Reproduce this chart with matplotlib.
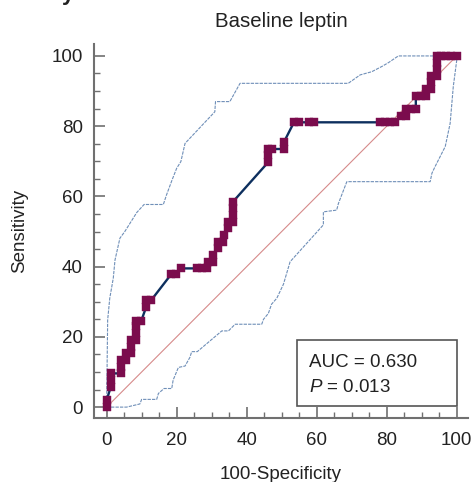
import matplotlib
matplotlib.use("Agg")
import matplotlib.pyplot as plt
from matplotlib.patches import Rectangle
from matplotlib.ticker import MultipleLocator

# ROC curve points (100-Specificity, Sensitivity)
roc_x = [0, 0, 1.2, 1.2, 1.2, 4.2, 4.2, 4.2, 5.6, 5.6, 7.1, 7.1, 7.1, 8.5,
         8.5, 8.5, 8.5, 9.9, 11.3, 11.3, 12.7, 18.5, 19.8, 21.3, 25.9, 27.3,
         28.7, 28.9, 30.3, 30.3, 31.8, 31.8, 33.3, 33.4, 34.7, 34.7, 36.1,
         36.1, 36.1, 36.1, 46.2, 46.2, 46.2, 47.2, 50.6, 50.6, 53.5, 55.0,
         57.8, 59.3, 78.1, 79.5, 81.0, 82.4, 84.0, 85.4, 85.4, 86.9, 88.3,
         88.3, 89.7, 91.2, 91.3, 92.7, 92.7, 92.7, 94.3, 94.3, 94.3, 94.3,
         95.5, 97.0, 98.4, 100]
roc_y = [0, 1.9, 5.8, 7.7, 9.6, 9.6, 11.5, 13.4, 13.4, 15.3, 15.3, 17.2, 19.1,
         19.1, 21.0, 23.0, 24.6, 24.6, 28.5, 30.4, 30.4, 37.9, 37.9, 39.5,
         39.5, 39.5, 39.5, 41.4, 41.4, 43.3, 45.2, 47.1, 47.1, 49.0, 50.9,
         52.8, 52.8, 54.7, 56.6, 58.5, 69.8, 71.7, 73.5, 73.5, 73.5, 75.4,
         81.1, 81.1, 81.1, 81.1, 81.1, 81.1, 81.1, 81.1, 83.0, 83.0, 84.9,
         84.9, 84.9, 88.7, 88.7, 88.7, 90.6, 90.6, 92.5, 94.3, 94.3, 96.2,
         98.1, 100, 100, 100, 100, 100]

# upper 95% confidence bound
upper_x = [0, 0.3, 0.9, 1.9, 2.4, 3.8, 5.2, 8.6, 10.7, 16.2, 17.1, 18.7, 20.0,
           21.2, 22.4, 30.9, 31.1, 35.2, 38.1, 69.0, 72.4, 75.7, 78.6, 80.5,
           83.3, 100]
upper_y = [0, 24.8, 31.0, 36.7, 41.9, 48.1, 50.0, 55.4, 57.7, 57.7, 60.4,
           64.7, 68.0, 69.9, 75.1, 84.1, 87.0, 87.0, 92.2, 92.2, 94.6, 95.5,
           97.0, 98.1, 100, 100]

# lower 95% confidence bound
lower_x = [0, 5.7, 9.5, 10.0, 14.3, 14.8, 16.4, 18.6, 19.0, 20.5, 22.4, 23.8,
           24.3, 25.9, 32.9, 34.8, 36.7, 44.3, 44.8, 46.2, 47.1, 48.6, 50.5,
           52.4, 61.9, 61.9, 65.7, 66.2, 68.6, 92.4, 92.9, 93.8, 96.7, 98.1,
           99.0, 100, 100]
lower_y = [0, 0, 0.9, 2.2, 2.2, 3.9, 5.3, 5.3, 7.7, 11.3, 11.7, 14.2, 15.8,
           15.8, 21.7, 21.7, 23.6, 23.6, 25.0, 26.7, 29.3, 31.0, 35.0, 41.4,
           51.9, 55.6, 56.1, 58.0, 64.2, 64.2, 66.6, 68.5, 74.2, 80.8, 91.3,
           98.9, 100]

ticks = [0, 20, 40, 60, 80, 100]
auc_text = "AUC = 0.630"
p_text = "$\\mathit{P}$ = 0.013"

plt.rcParams['font.family'] = ['Liberation Sans', 'DejaVu Sans']
plt.rcParams['mathtext.fontset'] = 'custom'
plt.rcParams['mathtext.it'] = 'Liberation Sans:italic'
plt.rcParams['mathtext.rm'] = 'Liberation Sans'

fig = plt.figure(figsize=(4.74, 4.82), dpi=100)
ax = fig.add_axes([94 / 474, 64 / 482, 374 / 474, 374 / 482])

band_col = "#6F8FB8"
ax.plot(upper_x, upper_y, color=band_col, lw=0.8, ls=(0, (3, 1)))
ax.plot(lower_x, lower_y, color=band_col, lw=0.8, ls=(0, (3, 1)))
ax.plot([0, 100], [0, 100], color="#D68A8A", lw=0.8)
ax.plot(roc_x, roc_y, color="#0D2F5E", lw=1.7, marker="s", ms=6,
        mfc="#7B0C4D", mec="#7B0C4D", mew=0.3)

ax.set_xlim(-3.6, 103.2)
ax.set_ylim(-3.1, 103.4)
ax.set_xticks(ticks)
ax.set_yticks(ticks)
ax.xaxis.set_minor_locator(MultipleLocator(5))
ax.yaxis.set_minor_locator(MultipleLocator(5))
for s in ("top", "right"):
    ax.spines[s].set_visible(False)
for s in ("left", "bottom"):
    ax.spines[s].set_color("#707070")
    ax.spines[s].set_linewidth(1.5)
ax.tick_params(which="major", direction="in", length=8, width=1.2,
               color="#707070", labelsize=13.5, labelcolor="#222222")
ax.tick_params(which="minor", direction="in", length=4, width=1.0,
               color="#707070")
ax.tick_params(axis="y", pad=8)
ax.tick_params(axis="x", pad=10)

ax.set_title("Baseline leptin", fontsize=14.7, color="#222222", pad=12)
ax.set_xlabel("100-Specificity", fontsize=13.5, color="#222222", labelpad=12)
ax.set_ylabel("Sensitivity", fontsize=13.5, color="#222222", labelpad=17)

# AUC box
ax.add_patch(Rectangle((0.542, 0.033), 0.428, 0.176, transform=ax.transAxes,
                       fc="white", ec="#555555", lw=1.2, zorder=5))
ax.text(0.576, 0.136, auc_text, transform=ax.transAxes, ha="left",
        va="baseline", fontsize=13.5, color="#222222", zorder=6)
ax.text(0.576, 0.069, p_text, transform=ax.transAxes, ha="left",
        va="baseline", fontsize=13.5, color="#222222", zorder=6)

# cropped fragment of panel heading above the figure
fig.text(0.131, 1.0, "y", fontsize=16, fontweight="bold", color="#222222",
         ha="left", va="baseline")

fig.savefig("out.png", dpi=100)
